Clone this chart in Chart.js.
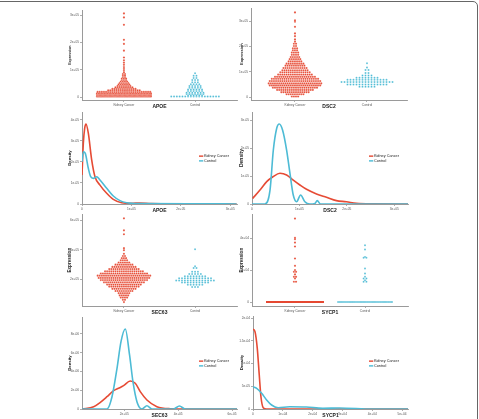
<!DOCTYPE html>
<html>
<head>
<meta charset="utf-8">
<script src="https://cdn.jsdelivr.net/npm/chart.js@4.4.1/dist/chart.umd.min.js"></script>
<style>
html, body { margin: 0; padding: 0; background: #fff; }
#fig { position: relative; width: 479px; height: 419px; overflow: hidden; font-family: "Liberation Sans", Arial, sans-serif; }
#frame { position: absolute; left: -6px; top: 1px; width: 484px; height: 440px; box-sizing: border-box; border: 1.5px solid #666; border-radius: 5px; }
canvas { position: absolute; }
.lg { position: absolute; font-size: 8px; line-height: 9.3px; color: #222; white-space: nowrap; transform-origin: 0 0; transform: scale(0.475); }
.lg i { display: inline-block; width: 9px; height: 2.8px; margin-right: 1.5px; vertical-align: middle; }
</style>
</head>
<body>
<div id="fig"><div id="frame"></div></div>
<script>
const GROUPS = ['Kidney Cancer', 'Control'];
const TUMOR = '#E64B35', NORMAL = '#4DBBD5';

// ─── Expression swarms: value of each row and number of samples in it ───
const apoeTumorRows   = [2000, 7500, 13000, 18500, 24000, 29500, 35000, 40500, 46000, 51500, 57000, 62500, 68000, 73500, 79000, 84500, 90000, 96000, 103000, 110000, 118000, 126000, 135000, 145000, 170000, 195000, 210000, 265000, 292000, 307000];
const apoeTumorCounts = [48, 44, 36, 26, 16, 12, 9, 7, 6, 5, 4, 3, 3, 2, 2, 2, 1, 1, 1, 1, 1, 1, 1, 1, 1, 1, 1, 1, 1, 1];
const apoeNormalRows   = [1500, 6000, 11000, 16000, 22000, 28000, 34000, 40000, 47000, 54000, 62000, 70000, 78000, 87000];
const apoeNormalCounts = [18, 6, 7, 7, 6, 6, 5, 5, 4, 3, 3, 2, 2, 1];

const dsc2TumorRows   = [2000, 11000, 19000, 28000, 37000, 46000, 54000, 63000, 72000, 80000, 89000, 98000, 106000, 115000, 124000, 132000, 141000, 150000, 158000, 167000, 176000, 185000, 193000, 202000, 211000, 219000, 228000, 241000, 252000, 278000, 298000, 304000, 335000];
const dsc2TumorCounts = [4, 9, 14, 18, 22, 25, 26, 25, 23, 20, 17, 15, 13, 12, 10, 9, 7, 6, 5, 4, 4, 3, 3, 2, 2, 1, 1, 1, 1, 1, 1, 1, 1];
const dsc2NormalRows   = [41000, 50000, 59000, 68000, 76000, 85000, 95000, 107000, 117000, 134000];
const dsc2NormalCounts = [6, 14, 18, 14, 8, 4, 2, 2, 1, 1];

const sec63TumorRows   = [44000, 59000, 74000, 89000, 104000, 119000, 134000, 149000, 163000, 178000, 193000, 208000, 223000, 238000, 253000, 268000, 283000, 298000, 313000, 328000, 342000, 357000, 372000, 397000, 410000, 505000, 532000, 613000];
const sec63TumorCounts = [1, 2, 4, 5, 6, 9, 12, 15, 17, 20, 23, 25, 26, 23, 19, 15, 12, 9, 6, 4, 3, 2, 1, 1, 1, 1, 1, 1];
const sec63NormalRows   = [146000, 161000, 176000, 191000, 205000, 220000, 235000, 250000, 275000, 288000, 403000];
const sec63NormalCounts = [3, 6, 10, 14, 12, 8, 5, 3, 2, 1, 1];

const sycp1TumorRows   = [0, 12700, 14800, 15800, 17300, 18900, 20000, 22700, 27300, 34800, 37300, 39400, 40200, 52300];
const sycp1TumorCounts = [480, 2, 1, 2, 1, 2, 1, 1, 1, 1, 1, 1, 1, 1];
const sycp1NormalRows   = [0, 12700, 13600, 14800, 15800, 17900, 21000, 27700, 28300, 32900, 35600];
const sycp1NormalCounts = [60, 2, 1, 2, 1, 1, 1, 2, 1, 1, 1];

// ─── Density curves ───
const apoeTumorDensX = [0, 2700, 5400, 8100, 12800, 19600, 26300, 36400, 50000, 63400, 80300, 100000, 117000, 140000, 200000, 313000];
const apoeTumorDensY = [1.38e-5, 2.89e-5, 3.6e-5, 3.81e-5, 3.37e-5, 2.1e-5, 1.3e-5, 0.9e-5, 0.51e-5, 0.22e-5, 0.06e-5, 0.03e-5, 0.05e-5, 0.02e-5, 0.01e-5, 0];
const apoeNormalDensX = [0, 2700, 6700, 12800, 17600, 22900, 29700, 36400, 50000, 63400, 76900, 90400, 117000, 239000, 313000];
const apoeNormalDensY = [2.01e-5, 2.49e-5, 2.41e-5, 1.7e-5, 1.3e-5, 1.22e-5, 1.3e-5, 1.14e-5, 0.75e-5, 0.38e-5, 0.16e-5, 0.06e-5, 0.02e-5, 0.01e-5, 0];

const dsc2TumorDensX = [1500, 16800, 31000, 44200, 59000, 73000, 86300, 101000, 115000, 136000, 157000, 178000, 199000, 220000, 255000, 329000];
const dsc2TumorDensY = [0.2e-5, 0.5e-5, 0.8e-5, 0.975e-5, 1.1e-5, 1.04e-5, 0.86e-5, 0.68e-5, 0.525e-5, 0.36e-5, 0.24e-5, 0.12e-5, 0.08e-5, 0.025e-5, 0.005e-5, 0];
const dsc2NormalDensX = [0, 27000, 38000, 45000, 52000, 57500, 64600, 73000, 80000, 87000, 94000, 102500, 111600, 122000, 132600, 137500, 144600, 329000];
const dsc2NormalDensY = [0, 0, 0.5e-5, 1.93e-5, 2.7e-5, 2.86e-5, 2.64e-5, 1.93e-5, 1.1e-5, 0.32e-5, 0.08e-5, 0.32e-5, 0.08e-5, 0, 0.02e-5, 0.12e-5, 0, 0];

const sec63TumorDensX = [43000, 86300, 111100, 135900, 160400, 178900, 197400, 222200, 240700, 259300, 284100, 321100, 370400, 432200, 619000];
const sec63TumorDensY = [0, 0.245e-6, 0.71e-6, 1.31e-6, 1.95e-6, 2.21e-6, 2.49e-6, 2.99e-6, 2.74e-6, 1.85e-6, 0.96e-6, 0.25e-6, 0.03e-6, 0, 0];
const sec63NormalDensX = [43000, 135900, 154400, 173000, 187800, 203700, 219600, 232200, 247000, 265600, 284100, 302600, 382600, 404800, 425900, 619000];
const sec63NormalDensY = [0, 0, 1.31e-6, 4.34e-6, 7.18e-6, 8.53e-6, 5.76e-6, 2.91e-6, 0.78e-6, 0, 0.35e-6, 0, 0, 0.32e-6, 0, 0];

const sycp1TumorDensX = [0, 667, 1433, 2100, 2667, 3433, 4567, 52000];
const sycp1TumorDensY = [1.758e-4, 1.70e-4, 1.334e-4, 0.747e-4, 0.27e-4, 0.029e-4, 0, 0];
const sycp1NormalDensX = [0, 1233, 2900, 4567, 6233, 8433, 12333, 17900, 23433, 29000, 40100, 52000];
const sycp1NormalDensY = [0.49e-4, 0.455e-4, 0.345e-4, 0.198e-4, 0.088e-4, 0.029e-4, 0.05e-4, 0.044e-4, 0.015e-4, 0.022e-4, 0, 0];

// ─── Tick values ───
const apoeExprTicks = [0, 1e5, 2e5, 3e5];
const dsc2ExprTicks = [0, 1e5, 2e5, 3e5];
const sec63ExprTicks = [2e5, 4e5, 6e5];
const sycp1ExprTicks = [0, 2e4, 4e4];
const apoeDensXTicks = [0, 1e5, 2e5, 3e5];
const apoeDensYTicks = [0, 1e-5, 2e-5, 3e-5, 4e-5];
const dsc2DensXTicks = [0, 1e5, 2e5, 3e5];
const dsc2DensYTicks = [0, 1e-5, 2e-5, 3e-5];
const sec63DensXTicks = [2e5, 4e5, 6e5];
const sec63DensYTicks = [0, 2e-6, 4e-6, 6e-6, 8e-6];
const sycp1DensXTicks = [0, 1e4, 2e4, 3e4, 4e4, 5e4];
const sycp1DensYTicks = [0, 5e-5, 1e-4, 1.5e-4, 2e-4];

// ─── Layout ───
const YW = 24, XH = 12, PT = 4, PR = 6;
const AXIS = '#9a9a9a';
Chart.defaults.font.family = '"Liberation Sans", Arial, sans-serif';

const sci = v => v === 0 ? '0' : v.toExponential().replace(/e([+-])(\d)$/, 'e$10$2');

function scaleOpts(o, isY) {
  const lh = o.titleSize * 1.2;
  return {
    type: 'linear', min: o.min, max: o.max,
    afterBuildTicks: s => { s.ticks = o.ticks.map(v => ({ value: v })); },
    afterFit: s => { if (isY) s.width = YW; else s.height = XH; },
    grid: { drawOnChartArea: false, drawTicks: true, tickLength: 2, color: AXIS, lineWidth: 0.8 },
    border: { display: true, color: AXIS, width: 1 },
    ticks: {
      font: { size: 3.2 }, color: '#555', padding: 1, maxRotation: 0, minRotation: 0, autoSkip: false,
      callback: o.labels ? (v, i) => o.labels[i] : v => sci(v)
    },
    title: {
      display: true, text: o.title, color: '#222',
      font: { size: o.titleSize, weight: 'bold' },
      padding: isY ? { top: YW - o.gap - lh / 2, bottom: 0 } : { top: 0, bottom: XH - 7 - lh / 2 }
    }
  };
}

function makePanel(box, datasets, x, y) {
  const cv = document.createElement('canvas');
  const w = box.r - box.l + YW + PR, h = box.b - box.t + PT + XH;
  cv.width = w; cv.height = h;
  cv.style.left = (box.l - YW) + 'px';
  cv.style.top = (box.t - PT) + 'px';
  cv.style.width = w + 'px';
  cv.style.height = h + 'px';
  document.getElementById('fig').appendChild(cv);
  return new Chart(cv, {
    type: 'scatter',
    data: { datasets },
    options: {
      responsive: false, animation: false, devicePixelRatio: 1,
      layout: { padding: { top: PT, right: PR, left: 0, bottom: 0 } },
      plugins: { legend: { display: false }, tooltip: { enabled: false } },
      scales: { x: scaleOpts(x, false), y: scaleOpts(y, true) }
    }
  });
}

// beeswarm: spread each row's samples sideways around its group
function swarm(rows, counts, center, step, cap) {
  const pts = [];
  rows.forEach((v, k) => {
    const n = counts[k];
    const gap = n > 1 ? Math.min(step, 2 * cap / (n - 1)) : 0;
    for (let i = 0; i < n; i++) pts.push({ x: center + (i - (n - 1) / 2) * gap, y: v });
  });
  return pts;
}

function swarmPanel(box, xr, tumor, normal, yr, ticks, name, ySize, gap) {
  const ppu = (box.r - box.l) / (xr[1] - xr[0]);
  const pt = (data, color, r) => ({
    data, showLine: false, pointRadius: r, pointBackgroundColor: color,
    pointBorderColor: 'rgba(255,255,255,0.8)',
    // rows with hundreds of samples merge into a solid bar, no outline there
    pointBorderWidth: c => (c.raw && c.raw.y === 0 && data.length > 100) ? 0 : 0.3
  });
  makePanel(box, [
    pt(swarm(tumor[0], tumor[1], 1, 2.1 / ppu, tumor[2] / ppu), TUMOR, 1.1),
    pt(swarm(normal[0], normal[1], 2, normal[3] / ppu, normal[2] / ppu), NORMAL, 1.0)
  ],
  { min: xr[0], max: xr[1], ticks: [1, 2], labels: GROUPS, title: name, titleSize: 5 },
  { min: yr[0], max: yr[1], ticks, title: 'Expression', titleSize: ySize, gap });
}

function densPanel(box, tx, ty, nx, ny, xr, xt, yr, yt, name, ySize, gap) {
  const line = (xs, ys, color, order) => ({
    data: xs.map((v, i) => ({ x: v, y: ys[i] })), showLine: true, pointRadius: 0,
    borderColor: color, borderWidth: 1.6, cubicInterpolationMode: 'monotone', fill: false, order
  });
  makePanel(box, [line(tx, ty, TUMOR, 1), line(nx, ny, NORMAL, 0)],
    { min: xr[0], max: xr[1], ticks: xt, title: name, titleSize: 5 },
    { min: yr[0], max: yr[1], ticks: yt, title: 'Density', titleSize: ySize, gap });
}

function legend(x, y) {
  const d = document.createElement('div');
  d.className = 'lg';
  d.style.left = x + 'px'; d.style.top = y + 'px';
  d.innerHTML = GROUPS.map((g, i) => `<div><i style="background:${i ? NORMAL : TUMOR}"></i>${g}</div>`).join('');
  document.getElementById('fig').appendChild(d);
}

swarmPanel({ l: 82, t: 10, r: 237, b: 100 }, [0.41, 2.59],
  [apoeTumorRows, apoeTumorCounts, 27], [apoeNormalRows, apoeNormalCounts, 26, 2.8],
  [-11000, 318300], apoeExprTicks, 'APOE', 3.6, 12);
swarmPanel({ l: 251, t: 8, r: 407, b: 100 }, [0.389, 2.556],
  [dsc2TumorRows, dsc2TumorCounts, 28], [dsc2NormalRows, dsc2NormalCounts, 27, 3],
  [-11800, 351300], dsc2ExprTicks, 'DSC2', 4, 9);
swarmPanel({ l: 82, t: 214, r: 237, b: 306 }, [0.41, 2.59],
  [sec63TumorRows, sec63TumorCounts, 28], [sec63NormalRows, sec63NormalCounts, 26, 2.9],
  [17000, 640700], sec63ExprTicks, 'SEC63', 4.6, 12);
swarmPanel({ l: 252, t: 214, r: 408, b: 306 }, [0.386, 2.614],
  [sycp1TumorRows, sycp1TumorCounts, 28], [sycp1NormalRows, sycp1NormalCounts, 27, 2.8],
  [-2500, 55000], sycp1ExprTicks, 'SYCP1', 4.6, 10);

densPanel({ l: 82, t: 112, r: 237, b: 204 }, apoeTumorDensX, apoeTumorDensY, apoeNormalDensX, apoeNormalDensY,
  [0, 313800], apoeDensXTicks, [0, 4.38e-5], apoeDensYTicks, 'APOE', 4.3, 12);
densPanel({ l: 252, t: 112, r: 408, b: 204 }, dsc2TumorDensX, dsc2TumorDensY, dsc2NormalDensX, dsc2NormalDensY,
  [0, 329000], dsc2DensXTicks, [0, 3.29e-5], dsc2DensYTicks, 'DSC2', 5, 10);
densPanel({ l: 82, t: 317, r: 237, b: 409 }, sec63TumorDensX, sec63TumorDensY, sec63NormalDensX, sec63NormalDensY,
  [43000, 618500], sec63DensXTicks, [0, 9.81e-6], sec63DensYTicks, 'SEC63', 4.3, 12);
densPanel({ l: 253, t: 316, r: 408, b: 409 }, sycp1TumorDensX, sycp1TumorDensY, sycp1NormalDensX, sycp1NormalDensY,
  [0, 52000], sycp1DensXTicks, [0, 2.044e-4], sycp1DensYTicks, 'SYCP1', 4.3, 11);

legend(199, 153.5);
legend(369, 153.5);
legend(199, 358.5);
legend(369, 358.8);
</script>
</body>
</html>
